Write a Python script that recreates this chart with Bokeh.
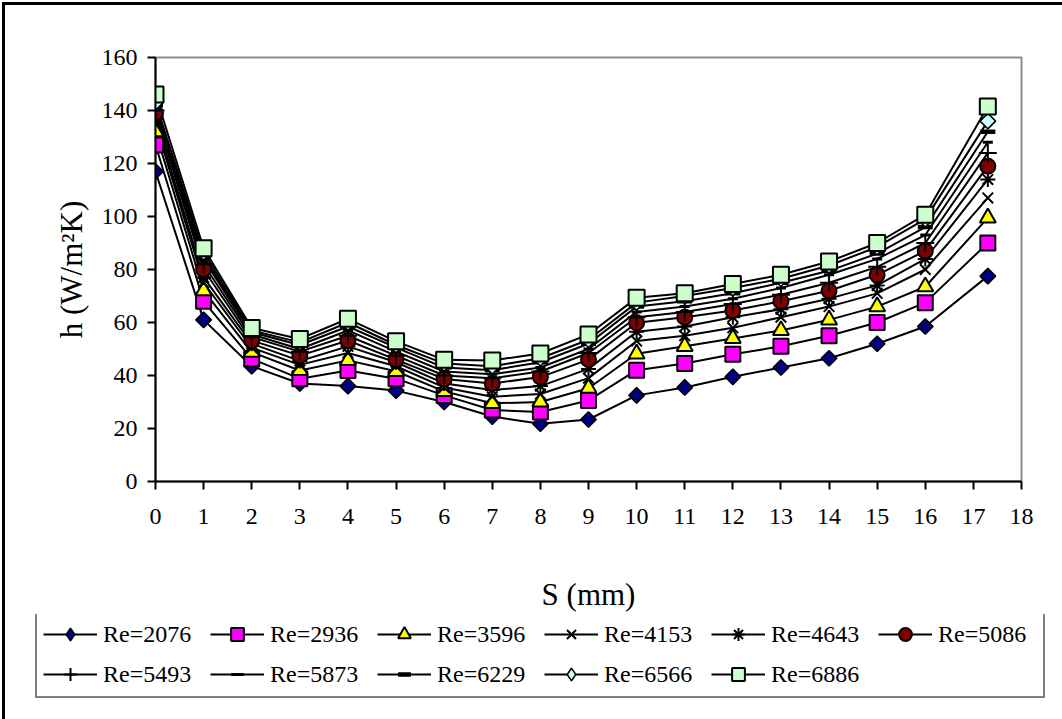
from bokeh.plotting import figure
from bokeh.layouts import column
from bokeh.models import Legend, LegendItem, FixedTicker, Range1d
from bokeh.embed import file_html
from bokeh.resources import INLINE

S_mm = [0, 1, 2, 3, 4, 5, 6, 7, 8, 9, 10, 11, 12, 13, 14, 15, 16, 17.3]

re_2076 = [117, 61, 43.5, 37, 36, 34.3, 30, 24.5, 21.8, 23.4, 32.5, 35.5, 39.5, 43, 46.5, 52, 58.5, 77.5]
re_2936 = [127, 68, 46.3, 38.8, 41.9, 38.8, 32.5, 27, 26.2, 30.6, 42, 44.5, 48, 51, 55, 60, 67.5, 90]
re_3596 = [132, 72, 48.8, 41.9, 45.7, 41.6, 34, 29.5, 30, 35.2, 48.2, 51, 54, 57, 61, 66, 73.5, 99.5]
re_4153 = [135, 75, 50.5, 44, 48.5, 43.5, 35.5, 32, 33, 39, 53, 55, 58, 62, 66, 71, 80, 107]
re_4643 = [137, 77, 52, 45.5, 51, 45, 37, 34.5, 36, 42.5, 56.5, 58.5, 62, 65, 69, 74, 84, 114]
re_5086 = [139, 80, 53.2, 47.5, 53.2, 46, 38.7, 37, 39.4, 46, 59.9, 62, 64.5, 68, 72, 78, 87, 119]
re_5493 = [140, 82, 54.5, 49, 55, 47.5, 40, 39, 41.5, 48.5, 62, 64, 67, 70.5, 75, 81, 90, 124]
re_5873 = [141, 84, 55.5, 50, 57, 49, 41.5, 40.5, 43, 50, 64, 66, 69, 73, 78, 84, 93, 128]
re_6229 = [142, 85, 56.3, 51.5, 58.5, 50.5, 43, 42, 45, 52, 66, 68, 71, 75, 79.5, 86, 96, 132]
re_6566 = [143, 86.5, 57, 52.5, 60, 51.5, 44.5, 43.5, 46.5, 53.5, 67.5, 70, 73, 76.5, 81.5, 88.5, 99, 136]
re_6886 = [146, 88, 57.9, 53.8, 61.4, 52.9, 45.9, 45.7, 48.3, 55.5, 69.3, 71, 74.5, 78, 83, 90, 100.7, 141.5]

series_labels = ["Re=2076", "Re=2936", "Re=3596", "Re=4153", "Re=4643", "Re=5086",
                 "Re=5493", "Re=5873", "Re=6229", "Re=6566", "Re=6886"]
series_values = [re_2076, re_2936, re_3596, re_4153, re_4643, re_5086,
                 re_5493, re_5873, re_6229, re_6566, re_6886]

x_ticks = list(range(0, 19))
y_ticks = list(range(0, 161, 20))

FONT = "Liberation Serif"

# marker styles: (marker, legend marker, fill, size, line_width, angle)
styles = [
    ("square", "diamond", "#000080", 11, 1.5, 0.785398),
    ("square", "square", "#FF00FF", 15, 2, 0),
    ("triangle", "triangle", "#FFFF00", 16, 2, 0),
    ("x", "x", None, 15, 2, 0),
    ("asterisk", "asterisk", None, 15, 2, 0),
    ("circle", "circle", "#800000", 15, 2, 0),
    ("cross", "cross", None, 18, 2, 0),
    ("dash", "dash", None, 10, 3, 0),
    ("dash", "dash", None, 15, 4.5, 0),
    ("square", "diamond", "#CCFFFF", 11, 1.5, 0.785398),
    ("square", "square", "#CCFFCC", 16, 2, 0),
]

W = 1057
H_MAIN = 609
H_LEG = 105

p = figure(width=W, height=H_MAIN, output_backend="svg", toolbar_location=None,
           x_range=Range1d(0, 18), y_range=Range1d(0, 160),
           min_border_left=150, min_border_right=41, min_border_top=52,
           min_border_bottom=H_MAIN - 476)

p.grid.visible = False
p.outline_line_color = "#8c8c8c"
p.outline_line_width = 2
p.background_fill_color = "white"
p.border_fill_color = "white"

for ax, ticks in ((p.xaxis, x_ticks), (p.yaxis, y_ticks)):
    ax.ticker = FixedTicker(ticks=ticks)
    ax.minor_tick_line_color = None
    ax.major_tick_in = 0
    ax.major_tick_out = 8
    ax.major_tick_line_width = 2
    ax.axis_line_width = 2
    ax.axis_line_color = "black"
    ax.major_tick_line_color = "black"
    ax.major_label_text_font = FONT
    ax.major_label_text_font_size = "24px"
    ax.major_label_text_color = "black"
    ax.axis_label_text_font = FONT
    ax.axis_label_text_font_size = "31px"
    ax.axis_label_text_font_style = "normal"
    ax.axis_label_text_color = "black"

p.xaxis.axis_label = "S (mm)"
p.yaxis.axis_label = "h (W/m²K)"
p.xaxis.major_label_standoff = 19
p.yaxis.major_label_standoff = 10
p.xaxis.axis_label_standoff = 50
p.yaxis.axis_label_standoff = 10

for vals in series_values:
    p.line(S_mm, vals, line_color="black", line_width=2)
for vals, (mk, _lmk, fill, size, lw, ang) in zip(series_values, styles):
    p.scatter(S_mm, vals, marker=mk, size=size, angle=ang,
              fill_color=fill if fill else "black", line_color="black", line_width=lw)

# legend panel: separate figure below the chart; its renderers use the same
# data but the view range is chosen so that only the legend is visible
pl = figure(frame_width=W, frame_height=H_LEG, output_backend="svg", toolbar_location=None,
            x_range=Range1d(1000, 1001), y_range=Range1d(1000, 1001),
            x_axis_location=None, y_axis_location=None,
            min_border=0, min_border_left=0, min_border_right=0,
            min_border_top=0, min_border_bottom=0)
pl.grid.visible = False
pl.outline_line_color = None
pl.background_fill_color = "white"
pl.border_fill_color = "white"

items = []
for lbl, vals, (_mk, lmk, fill, size, lw, ang) in zip(series_labels, series_values, styles):
    lr = pl.line(S_mm, vals, line_color="black", line_width=2)
    sr = pl.scatter(S_mm, vals, marker=lmk, size=size,
                    fill_color=fill if fill else "black", line_color="black",
                    line_width=min(lw, 2) if lmk != "dash" else lw)
    items.append(LegendItem(label=lbl, renderers=[lr, sr]))

legend = Legend(items=items, orientation="horizontal", ncols=6, location=(30, 21),
                label_text_font=FONT, label_text_font_size="24px", label_text_color="black",
                glyph_width=54, glyph_height=32, label_height=32, label_width=99,
                label_standoff=6, spacing=8, padding=6, margin=0,
                border_line_color="black", border_line_width=2,
                background_fill_color="white", background_fill_alpha=1.0)
pl.add_layout(legend, "center")

layout = column(p, pl, spacing=0)
layout.styles = {"margin-left": "2px", "margin-top": "2px",
                 "border-left": "3px solid black", "border-top": "3px solid black"}

open("out.html", "w").write(file_html(layout, INLINE))
